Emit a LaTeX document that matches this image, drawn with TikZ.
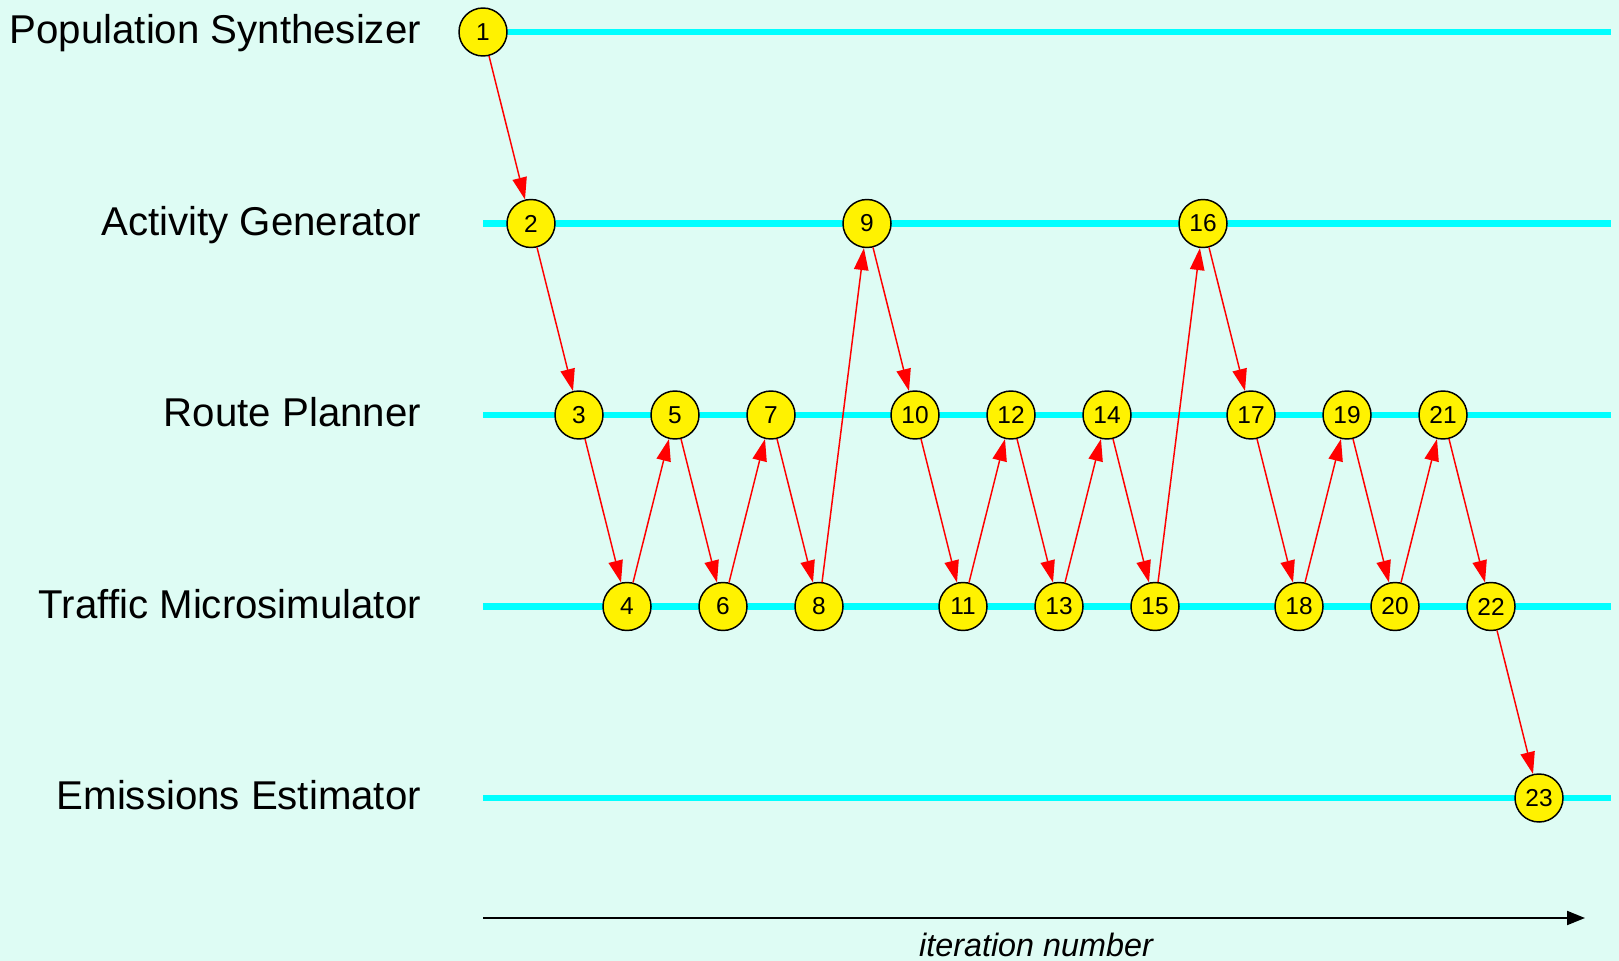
\documentclass[tikz,border=0pt]{standalone}
\usepackage{fontspec}
\setmainfont{Liberation Sans}
\usetikzlibrary{arrows.meta}

\definecolor{paper}{RGB}{222,252,244}
\definecolor{lanecol}{RGB}{0,255,255}

\begin{document}
\begin{tikzpicture}[
  lanename/.style={anchor=base east, inner sep=0pt, font=\fontsize{28.6}{34}\selectfont},
  lanebar/.style={draw=lanecol, line width=4.3pt},
  stage/.style={circle, draw=black, fill=yellow, line width=1.05pt,
    minimum size=1.2cm, inner sep=0pt, font=\fontsize{17.4}{20}\selectfont},
  flow/.style={draw=red, line width=1.05pt, -{Triangle[length=0.55cm,width=0.36cm]}},
]

\def\dx{1.2}
\def\dy{4.7875}
\def\xa{12.075}
\def\ya{-0.8}

% canvas
\fill[paper] (0,0) rectangle (40.475,-24.025);
\useasboundingbox (0,0) rectangle (40.475,-24.025);

% lanes
\foreach \k/\name/\txt in {0/ps/Population Synthesizer, 1/ag/Activity Generator,
    2/rp/Route Planner, 3/tm/Traffic Microsimulator, 4/ee/Emissions Estimator}{
  \node[lanename] (\name) at (10.53,{\ya-\k*\dy-0.29}) {\txt};
  \coordinate (\name-s) at (\xa,{\ya-\k*\dy});
  \coordinate (\name-e) at (40.275,{\ya-\k*\dy});
  \draw[lanebar] (\name-s) -- (\name-e);
}

% steps
\foreach \i/\k in {1/0, 2/1, 3/2, 4/3, 5/2, 6/3, 7/2, 8/3, 9/1, 10/2, 11/3, 12/2,
    13/3, 14/2, 15/3, 16/1, 17/2, 18/3, 19/2, 20/3, 21/2, 22/3, 23/4}{
  \node[stage] (n\i) at ({\xa+(\i-1)*\dx},{\ya-\k*\dy}) {\i};
}

\foreach \i in {1,...,22}{
  \pgfmathtruncatemacro\j{\i+1}
  \draw[flow] (n\i) -- (n\j);
}

% time axis
\coordinate (t0) at (\xa,-22.95);
\coordinate (t1) at (39.625,-22.95);
\draw[line width=1.4pt, -{Triangle[length=0.45cm,width=0.35cm]}] (t0) -- (t1);
\node[anchor=base, font=\itshape\fontsize{23}{27}\selectfont] (iter) at (25.9,-23.9) {iteration number};

\end{tikzpicture}
\end{document}
